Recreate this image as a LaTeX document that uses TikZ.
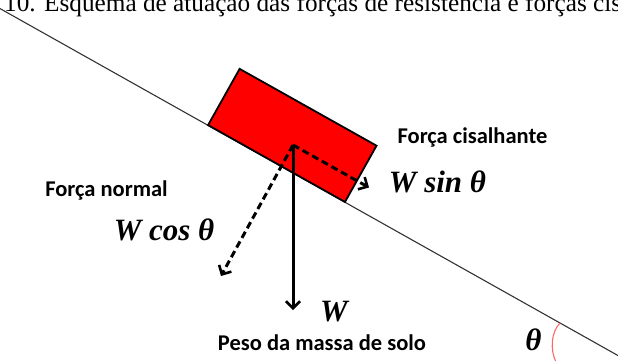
\documentclass[tikz,border=0pt]{standalone}
\usepackage{fontspec}
\setmainfont{Liberation Serif}
\newfontfamily\carlito{Carlito}
\usetikzlibrary{arrows.meta}
\begin{document}
\begin{tikzpicture}[x=1pt,y=-1pt,
  slope/.style={draw=black!80, line width=1.1pt},
  block/.style={draw=black, line width=1.8pt, fill=red, minimum width=157pt, minimum height=64.5pt, inner sep=0pt, rotate=-29.3},
  force/.style={line width=3pt, -{Straight Barb[length=7pt,width=14pt,line width=2.6pt]}},
  comp/.style={force, dash pattern=on 7pt off 4pt},
  lbl/.style={font=\carlito\bfseries\fontsize{22.5}{26}\selectfont, inner sep=0pt},
  sym/.style={font=\bfseries\itshape\fontsize{31}{34}\selectfont, inner sep=0pt},
  anglearc/.style={draw=red!60, line width=1.1pt},
]
\useasboundingbox (0,0) rectangle (618,360);
\clip (0,0) rectangle (618,360);
% title (cut at the top)
\node[anchor=base west, inner sep=0pt, font=\fontsize{25.25}{30}\selectfont] (title) at (4,11) {10. Esquema de atuação das forças de resistência e forças cisalhantes};
% slope
\coordinate (s1) at (-10,2.95);
\coordinate (s2) at (640,367.9);
\draw[slope] (s1) -- (s2);
% block
\node[block] (blk) at (292.3,135.4) {};
% forces
\coordinate (o) at (293,145);
\coordinate (wtip) at (293,310);
\coordinate (ctip) at (221,276);
\coordinate (stip) at (369,187.5);
\draw[force] (o) -- (wtip);
\draw[comp] (o) -- (ctip);
\draw[comp] (o) -- (stip);
% angle arc
\coordinate (a1) at (560,323);
\coordinate (a2) at (556,362);
\draw[anglearc] (a1) .. controls (551,332) and (550,350) .. (a2);
% labels
\node[lbl] (fc) at (472.5,137) {Força cisalhante};
\node[lbl] (fn) at (106.5,190) {Força normal};
\node[lbl] (peso) at (322,343) {Peso da massa de solo};
\node[sym] (wsin) at (437.5,182) {W sin θ};
\node[sym] (wcos) at (164,230) {W cos θ};
\node[sym] (w) at (334,312) {W};
\node[sym] (th) at (533.5,340) {θ};
\end{tikzpicture}
\end{document}
